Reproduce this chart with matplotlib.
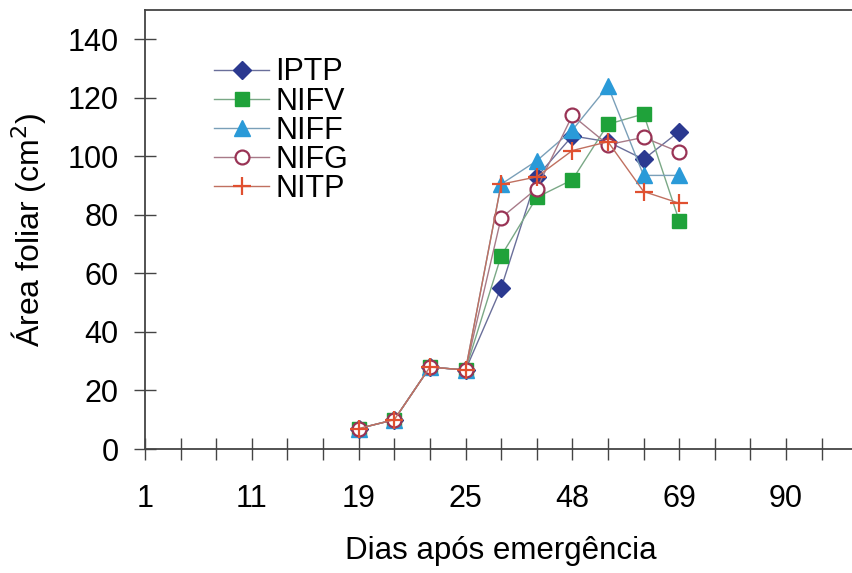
import matplotlib.pyplot as plt
import numpy as np

plt.rcParams['font.family'] = ['Liberation Sans', 'DejaVu Sans']

# posicoes das coletas no eixo (indice da categoria)
pos = np.arange(6, 16)
rotulos_x = ["1", "11", "19", "25", "48", "69", "90"]

IPTP = [7, 10, 28, 27, 55, 93, 107, 105, 99, 108.5]
NIFV = [7, 10, 28, 27, 66, 86, 92, 111, 114.5, 78]
NIFF = [7, 10, 28, 27, 90.5, 98.5, 109, 124, 93.5, 93.5]
NIFG = [7, 10, 28, 27, 79, 89, 114, 104, 106.5, 101.5]
NITP = [7, 10, 28, 27, 90.5, 93, 102, 105, 88, 84]

fig = plt.figure(figsize=(8.53, 5.73), dpi=100)
ax = fig.add_axes([0.170, 0.2164, 0.835, 0.766])

ax.plot(pos, IPTP, color="#6a6f9a", lw=1, marker="D", ms=9, mfc="#2b3990", mec="#2b3990", label="IPTP")
ax.plot(pos, NIFV, color="#7aa886", lw=1, marker="s", ms=10, mfc="#1fa23a", mec="#1fa23a", label="NIFV")
ax.plot(pos, NIFF, color="#7a9fb8", lw=1, marker="^", ms=11, mfc="#2a9ad8", mec="#2a9ad8", label="NIFF")
ax.plot(pos, NIFG, color="#a87a88", lw=1, marker="o", ms=10, mfc="white", mec="#993355", mew=1.6, label="NIFG")
ax.plot(pos, NITP, color="#c07060", lw=1, marker="+", ms=13, mec="#e05030", mew=1.6, label="NITP")

ax.set_xlim(0, 20)
ax.set_ylim(0, 150)
ax.set_yticks(np.arange(0, 141, 20))
ax.set_xticks(np.arange(0, 21, 3))
ax.set_xticklabels(rotulos_x)
ax.set_xticks(np.arange(0, 21), minor=True)

ax.spines["right"].set_visible(False)
for s in ["left", "bottom", "top"]:
    ax.spines[s].set_color("#444444")
    ax.spines[s].set_linewidth(1.3)

ax.tick_params(axis="both", which="both", direction="inout", length=16, width=1, color="#444444", labelsize=22)
ax.tick_params(axis="x", pad=17)
ax.tick_params(axis="y", pad=11)
ax.tick_params(axis="y", which="minor", left=False)

ax.set_xlabel("Dias após emergência", fontsize=22.5, labelpad=16)
ax.set_ylabel("Área foliar (cm$^2$)", fontsize=23, labelpad=13)

ax.legend(loc="upper left", bbox_to_anchor=(0.08, 0.92), frameon=False, fontsize=22,
          handlelength=1.8, handletextpad=0.2, labelspacing=-0.03, borderaxespad=0)

fig.savefig("out.png", dpi=100)
